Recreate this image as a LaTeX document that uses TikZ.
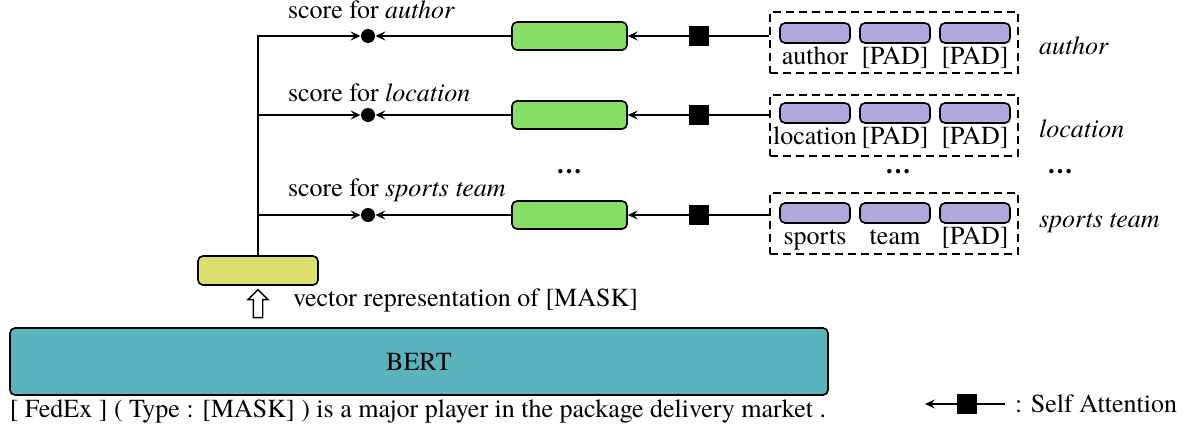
\documentclass[tikz,border=0pt]{standalone}
\usepackage{fontspec}
\setmainfont{texgyretermes}[Extension=.otf,UprightFont=*-regular,ItalicFont=*-italic,BoldFont=*-bold,BoldItalicFont=*-bolditalic]
\usetikzlibrary{arrows.meta,shapes.arrows,positioning}
\definecolor{bertcol}{HTML}{5BB3BD}
\definecolor{maskcol}{HTML}{DCDF6B}
\definecolor{encfill}{HTML}{88DD66}
\definecolor{tokfill}{HTML}{AFA8DA}
\newcommand{\rowA}{36}
\newcommand{\rowB}{115}
\newcommand{\rowC}{215}
\newcommand{\dotX}{368}
\newcommand{\encX}{569.5}
\newcommand{\grpX}{894}
\begin{document}
\begin{tikzpicture}[x=0.5pt,y=-0.5pt,font=\fontsize{13}{15}\selectfont,
  box/.style={draw,line width=0.8pt,rounded corners=2.5pt,inner sep=0pt},
  bertbox/.style={box,fill=bertcol,minimum width=409pt,minimum height=33.5pt},
  maskbox/.style={box,fill=maskcol,minimum width=60pt,minimum height=14.5pt},
  encbox/.style={box,fill=encfill,minimum width=57.5pt,minimum height=14pt},
  tokbox/.style={box,fill=tokfill,minimum width=35pt,minimum height=10pt},
  grpbox/.style={draw,line width=0.7pt,dash pattern=on 4pt off 2.5pt,minimum width=124pt,minimum height=30.5pt,inner sep=0pt},
  scoredot/.style={circle,fill=black,minimum size=7pt,inner sep=0pt},
  attn/.style={fill=black,minimum size=10pt,inner sep=0pt},
  conn/.style={line width=0.8pt,-{Stealth[length=5pt,width=4.5pt,inset=2pt]}},
  tok/.style={inner sep=0pt,text height=8.5pt,text depth=2.5pt}]
\useasboundingbox (0,0) rectangle (1188,434);

% encoder and the [MASK] vector
\node[bertbox] (bert) at (419,361.5) {BERT};
\node (sent) at (418,411) {[ FedEx ] ( Type : [MASK] ) is a major player in the package delivery market .};
\node[maskbox] (mask) at (258,270.5) {};
\node[single arrow,draw,fill=white,line width=0.7pt,shape border rotate=90,minimum height=14pt,
  single arrow head extend=2.6pt,single arrow tip angle=90,inner sep=2pt] (up) at (258,306) {};
\node[anchor=west] (vec) at (286,300) {vector representation of [MASK]};

% row 1
\node[scoredot] (dotA) at (\dotX,\rowA) {};
\node[encbox] (encA) at (\encX,\rowA) {};
\node[grpbox] (grpA) at (\grpX,42.5) {};
\node[tokbox] (tokA1) at (815,33) {};
\node[tokbox] (tokA2) at (895,33) {};
\node[tokbox] (tokA3) at (975,33) {};
\node[tok,below=1.5pt of tokA1] (wA1) {author};
\node[tok,below=1.5pt of tokA2] (wA2) {[PAD]};
\node[tok,below=1.5pt of tokA3] (wA3) {[PAD]};
\node[anchor=west] (nameA) at (1032,46) {\textit{author}};
\node[anchor=west] (scoreA) at (281,10) {score for \textit{author}};

% row 2
\node[scoredot] (dotB) at (\dotX,\rowB) {};
\node[encbox] (encB) at (\encX,\rowB) {};
\node[grpbox] (grpB) at (\grpX,125.5) {};
\node[tokbox] (tokB1) at (815,113) {};
\node[tokbox] (tokB2) at (895,113) {};
\node[tokbox] (tokB3) at (975,113) {};
\node[tok,below=1.5pt of tokB1] (wB1) {location};
\node[tok,below=1.5pt of tokB2] (wB2) {[PAD]};
\node[tok,below=1.5pt of tokB3] (wB3) {[PAD]};
\node[anchor=west] (nameB) at (1032,129) {\textit{location}};
\node[anchor=west] (scoreB) at (281,93) {score for \textit{location}};

% row 3
\node[scoredot] (dotC) at (\dotX,\rowC) {};
\node[encbox] (encC) at (\encX,\rowC) {};
\node[grpbox] (grpC) at (\grpX,223.5) {};
\node[tokbox] (tokC1) at (815,213) {};
\node[tokbox] (tokC2) at (895,213) {};
\node[tokbox] (tokC3) at (975,213) {};
\node[tok,below=1.5pt of tokC1] (wC1) {sports};
\node[tok,below=1.5pt of tokC2] (wC2) {team};
\node[tok,below=1.5pt of tokC3] (wC3) {[PAD]};
\node[anchor=west] (nameC) at (1032,223) {\textit{sports team}};
\node[anchor=west] (scoreC) at (281,190) {score for \textit{sports team}};

\node (dotsE) at (569,172) {\textbf{\ldots}};
\node (dotsG) at (898,172) {\textbf{\ldots}};
\node (dotsN) at (1060,172) {\textbf{\ldots}};

% connectors
\draw[conn] (mask) |- (dotA);
\draw[conn] (mask.north |- dotB) -- (dotB);
\draw[conn] (mask.north |- dotC) -- (dotC);
\draw[conn] (encA) -- (dotA);
\draw[conn] (encB) -- (dotB);
\draw[conn] (encC) -- (dotC);
\draw[conn] (grpA.west |- encA) -- node[attn] (saA) {} (encA);
\draw[conn] (grpB.west |- encB) -- node[attn] (saB) {} (encB);
\draw[conn] (grpC.west |- encC) -- node[attn] (saC) {} (encC);

% legend
\coordinate (legR) at (1005,404);
\coordinate (legL) at (925,404);
\draw[conn] (legR) -- node[attn,pos=0.48] (legSq) {} (legL);
\node[anchor=west] (legTxt) at (1008,404) {: Self Attention};
\end{tikzpicture}
\end{document}
